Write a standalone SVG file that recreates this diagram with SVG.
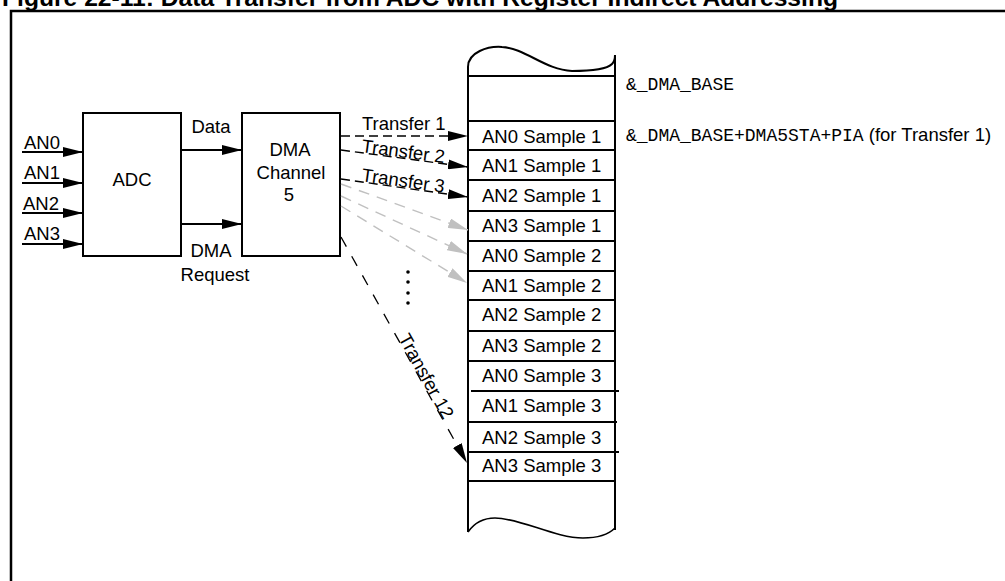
<svg xmlns="http://www.w3.org/2000/svg" width="1005" height="581" viewBox="0 0 1005 581">
<defs>
<style>
.t{font-family:"Liberation Sans",Arial,sans-serif;font-size:18.5px;fill:#000}
.m{font-family:"Liberation Mono","Courier New",monospace;font-size:18px;fill:#000}
.box{fill:#fff;stroke:#000;stroke-width:2}
.ln{stroke:#000;stroke-width:2;fill:none}
.solid{stroke:#000;stroke-width:2;fill:none}
.dash{stroke:#000;stroke-width:1.4;fill:none;stroke-dasharray:9 5}
.gdash{stroke:#c0c0c0;stroke-width:1.4;fill:none;stroke-dasharray:11 8}
.ldash{stroke:#000;stroke-width:1.3;fill:none;stroke-dasharray:11 11}
.row{stroke:#000;stroke-width:2}
</style>
<marker id="ah" markerUnits="userSpaceOnUse" markerWidth="20" markerHeight="10" refX="20" refY="5" orient="auto" viewBox="0 0 20 10"><path d="M0,0 L20,5 L0,10 z" fill="#000"/></marker>
<marker id="ahg" markerUnits="userSpaceOnUse" markerWidth="20" markerHeight="10" refX="20" refY="5" orient="auto" viewBox="0 0 20 10"><path d="M0,0 L20,5 L0,10 z" fill="#c0c0c0"/></marker>
</defs>
<rect width="1005" height="581" fill="#fff"/>
<text x="2" y="6" font-family="Liberation Sans,Arial,sans-serif" font-weight="bold" font-size="24" textLength="836" lengthAdjust="spacingAndGlyphs">Figure 22-11:  Data Transfer from ADC with Register Indirect Addressing</text>
<path d="M11,581 V11 H1005" fill="none" stroke="#000" stroke-width="2.5"/>

<g id="adc">
<rect class="box" x="83" y="113" width="98" height="143"/>
<text class="t" x="132" y="186" text-anchor="middle">ADC</text>
</g>
<g id="dma">
<rect class="box" x="242" y="113" width="98" height="143"/>
<text class="t" x="290" y="156" text-anchor="middle">DMA</text>
<text class="t" x="291" y="179" text-anchor="middle">Channel</text>
<text class="t" x="289" y="201" text-anchor="middle">5</text>
</g>
<g id="memory">
<path class="ln" d="M468,532 V67 C468,52 488,46 502,47 C525,48 545,70 572,71 C595,71 608,68 612,64 C615,61 615,58 615,55 V530"/>
<path d="M468,532 C475,522 485,518 495,518 C520,518 555,538 583,538 C600,538 610,533 615,528" fill="none" stroke="#000" stroke-width="1.6"/>
<g class="row">
<line x1="468" y1="76" x2="615" y2="76"/>
<line x1="468" y1="121" x2="615" y2="121"/>
<line x1="468" y1="150" x2="615" y2="150"/>
<line x1="468" y1="180" x2="615" y2="180"/>
<line x1="468" y1="211" x2="615" y2="211"/>
<line x1="468" y1="241" x2="615" y2="241"/>
<line x1="468" y1="271" x2="615" y2="271"/>
<line x1="468" y1="300" x2="615" y2="300"/>
<line x1="468" y1="331" x2="615" y2="331"/>
<line x1="468" y1="361" x2="615" y2="361"/>
<line x1="471" y1="391" x2="619" y2="391"/>
<line x1="468" y1="422" x2="617" y2="422"/>
<line x1="468" y1="452" x2="619" y2="452"/>
<line x1="468" y1="481" x2="615" y2="481"/>
</g>
<text class="t" x="482" y="143">AN0 Sample 1</text>
<text class="t" x="482" y="172">AN1 Sample 1</text>
<text class="t" x="482" y="202">AN2 Sample 1</text>
<text class="t" x="482" y="232">AN3 Sample 1</text>
<text class="t" x="482" y="262">AN0 Sample 2</text>
<text class="t" x="482" y="292">AN1 Sample 2</text>
<text class="t" x="482" y="321">AN2 Sample 2</text>
<text class="t" x="482" y="352">AN3 Sample 2</text>
<text class="t" x="482" y="382">AN0 Sample 3</text>
<text class="t" x="482" y="412">AN1 Sample 3</text>
<text class="t" x="482" y="444">AN2 Sample 3</text>
<text class="t" x="482" y="472">AN3 Sample 3</text>
</g>
<g id="addr-labels">
<text class="m" x="626" y="90">&amp;_DMA_BASE</text>
<text x="626" y="141"><tspan class="m">&amp;_DMA_BASE+DMA5STA+PIA</tspan><tspan class="t"> (for Transfer 1)</tspan></text>
</g>

<g id="connectors">
<line class="solid" x1="22" y1="152" x2="83" y2="152" marker-end="url(#ah)"/>
<line class="solid" x1="22" y1="183" x2="83" y2="183" marker-end="url(#ah)"/>
<line class="solid" x1="22" y1="213" x2="83" y2="213" marker-end="url(#ah)"/>
<line class="solid" x1="22" y1="244" x2="83" y2="244" marker-end="url(#ah)"/>
<line class="solid" x1="181" y1="150" x2="242" y2="150" marker-end="url(#ah)"/>
<line class="solid" x1="181" y1="224" x2="242" y2="224" marker-end="url(#ah)"/>
<line class="dash" x1="341" y1="136" x2="468" y2="136" marker-end="url(#ah)"/>
<line class="dash" x1="341" y1="150" x2="468" y2="167" marker-end="url(#ah)"/>
<line class="dash" x1="341" y1="179" x2="468" y2="197" marker-end="url(#ah)"/>
<line class="gdash" x1="341" y1="184" x2="468" y2="230" marker-end="url(#ahg)"/>
<line class="gdash" x1="341" y1="196" x2="467" y2="254" marker-end="url(#ahg)"/>
<line class="gdash" x1="341" y1="206" x2="467" y2="283" marker-end="url(#ahg)"/>
<line class="ldash" x1="341" y1="237" x2="467" y2="463" marker-end="url(#ah)"/>
<g fill="#000">
<circle cx="408" cy="272" r="1.8"/>
<circle cx="408" cy="282" r="1.8"/>
<circle cx="408" cy="293" r="1.8"/>
<circle cx="408" cy="303" r="1.8"/>
</g>
</g>

<g id="labels">
<text class="t" x="24" y="149" font-size="19">AN0</text>
<text class="t" x="24" y="179" font-size="19">AN1</text>
<text class="t" x="23" y="210" font-size="20.5">AN2</text>
<text class="t" x="24" y="240" font-size="19">AN3</text>
<text class="t" x="211" y="133" text-anchor="middle">Data</text>
<text class="t" x="211" y="257" text-anchor="middle">DMA</text>
<text class="t" x="215" y="281" text-anchor="middle">Request</text>
<text class="t" x="362" y="130">Transfer 1</text>
<text class="t" transform="translate(361,152) rotate(7.6)">Transfer 2</text>
<text class="t" transform="translate(361,181) rotate(8)">Transfer 3</text>
<text class="t" transform="translate(398,338) rotate(61)">Transfer 12</text>
</g>
</svg>
